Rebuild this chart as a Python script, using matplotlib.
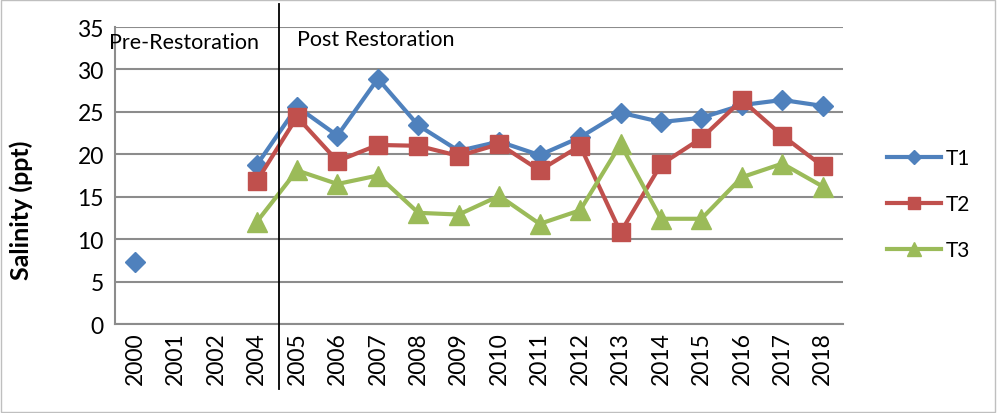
import numpy as np
import matplotlib
matplotlib.use('Agg')
import matplotlib.pyplot as plt
from matplotlib.lines import Line2D
from matplotlib.patches import Rectangle

# data
years = ['2000', '2001', '2002', '2004', '2005', '2006', '2007', '2008', '2009',
         '2010', '2011', '2012', '2013', '2014', '2015', '2016', '2017', '2018']
t1 = [7.3, np.nan, np.nan, 18.7, 25.6, 22.2, 28.9, 23.4, 20.4, 21.5, 19.9, 22.0,
      24.9, 23.8, 24.3, 25.8, 26.4, 25.7]
t2 = [np.nan, np.nan, np.nan, 16.8, 24.4, 19.2, 21.1, 21.0, 19.8, 21.2, 18.1, 21.0,
      10.8, 18.8, 21.9, 26.4, 22.2, 18.6]
t3 = [np.nan, np.nan, np.nan, 12.0, 18.1, 16.5, 17.5, 13.1, 12.9, 15.1, 11.8, 13.4,
      21.2, 12.4, 12.4, 17.3, 18.9, 16.2]
yticks = [0, 5, 10, 15, 20, 25, 30, 35]

plt.rcParams['font.family'] = ['Lato', 'DejaVu Sans']

W, H = 997, 414
fig = plt.figure(figsize=(W / 100, H / 100), dpi=100)
ax = fig.add_axes([115 / W, 1 - 325 / H, (843 - 115) / W, (325 - 28) / H])

x = np.arange(len(years))
styles = [('T1', t1, '#4F81BD', 'D', 10), ('T2', t2, '#C0504D', 's', 13),
          ('T3', t3, '#9BBB59', '^', 14)]
handles = []
for name, vals, col, mk, ms in styles:
    ax.plot(x, vals, color=col, lw=3, marker=mk, ms=ms)
    # legend shows smaller markers, like the spreadsheet original
    handles.append(Line2D([], [], color=col, lw=3, marker=mk, ms=ms * 0.7, label=name))

ax.set_xlim(-0.5, len(years) - 0.5)
ax.set_ylim(0, 35)
ax.set_yticks(yticks)
ax.set_xticks(x)
ax.set_xticklabels(years, rotation=90, fontsize=16.5)
ax.tick_params(axis='y', labelsize=16.5, length=0, pad=8)
ax.tick_params(axis='x', length=0, pad=5)
ax.grid(axis='y', color='#8c8c8c', lw=1.5)
ax.set_axisbelow(True)
for side in ['top', 'right']:
    ax.spines[side].set_visible(False)
for side in ['left', 'bottom']:
    ax.spines[side].set_color('#8c8c8c')
    ax.spines[side].set_linewidth(1.5)

ax.set_ylabel('Salinity (ppt)', fontsize=18, fontweight='bold')
ax.yaxis.set_label_coords(-0.113, 0.385)

# period labels and the restoration divider
fig.text(109 / W, 1 - 43 / H, 'Pre-Restoration', fontsize=15.5, va='center', ha='left')
fig.text(297 / W, 1 - 40 / H, 'Post Restoration', fontsize=15.5, va='center', ha='left')
fig.add_artist(Line2D([279 / W, 279 / W], [1 - 5 / H, 1 - 390 / H], color='black', lw=1.3))

fig.legend(handles=handles, loc='center left', bbox_to_anchor=(868 / W, 1 - 205 / H),
           frameon=False, fontsize=15, handlelength=2.6, labelspacing=1.25,
           handletextpad=0.25)

# outer border
fig.add_artist(Rectangle((0.001, 0.002), 0.997, 0.996, transform=fig.transFigure,
                         fill=False, edgecolor='#bfbfbf', lw=1))

fig.savefig('out.png', dpi=100)
